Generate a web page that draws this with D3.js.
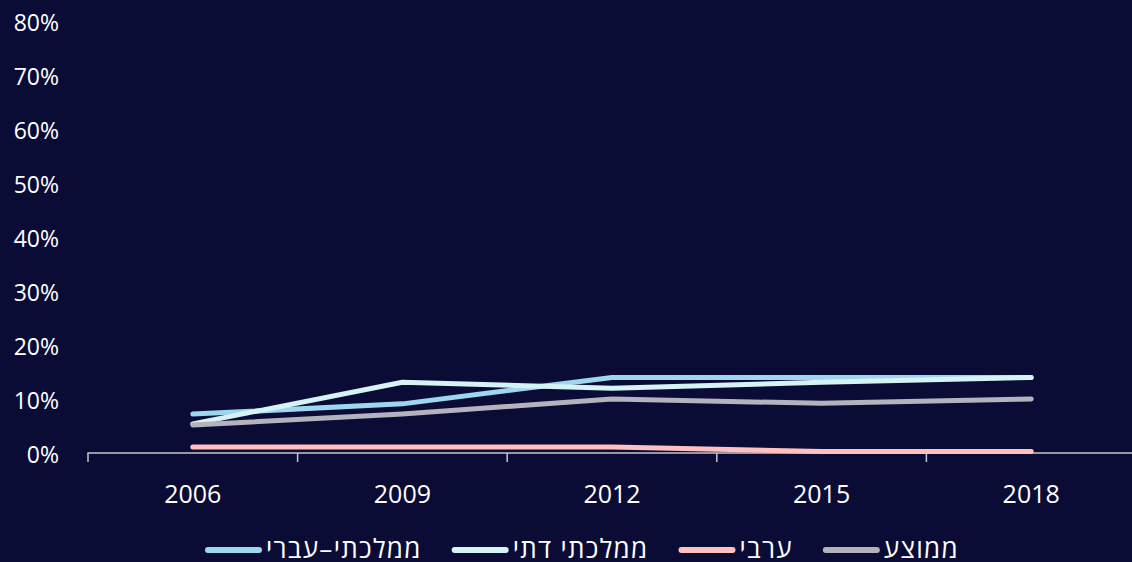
<!DOCTYPE html>
<html>
<head>
<meta charset="utf-8">
<script src="https://cdn.jsdelivr.net/npm/d3@7"></script>
<style>
  body { margin: 0; background: #0b0c36; }
  svg { display: block; }
</style>
</head>
<body>
<div id="chart"></div>
<script>
var years = ["2006", "2009", "2012", "2015", "2018"];
var seriesNames = ["ממלכתי–עברי", "ממלכתי דתי", "ערבי", "ממוצע"];
var mamlachti = [7.2, 9.1, 14, 14, 14];
var datiVals = [5.4, 13.1, 12, 13.1, 14];
var aravi = [1.1, 1.1, 1.1, 0.3, 0.3];
var memutza = [5.2, 7.2, 10, 9.2, 10];
var yTicks = [0, 10, 20, 30, 40, 50, 60, 70, 80];
var colors = ["#9fd6ef", "#d6f3f3", "#ffc0bf", "#b3b2bd"];

var width = 1132,
  height = 562;

var svg = d3.select("#chart")
  .append("svg")
  .attr("width", width)
  .attr("height", height)
  .style("background", "#0b0c36");

var x = d3.scaleBand()
  .domain(years)
  .range([88, 1136]);

var y = d3.scaleLinear()
  .domain([0, 80])
  .range([453, 21]);

var font = "'Open Sans', 'DejaVu Sans', sans-serif";

// year labels under the axis
var xAxis = svg.append("g")
  .attr("transform", "translate(0,453)")
  .call(d3.axisBottom(x).tickSize(0).tickPadding(32))
xAxis.select(".domain").remove();
xAxis.selectAll("text")
  .attr("fill", "#ffffff")
  .attr("font-family", font)
  .attr("font-size", "25px");

// axis line runs to the right edge
svg.append("line")
  .attr("x1", 87.5).attr("x2", width)
  .attr("y1", 453).attr("y2", 453)
  .attr("stroke", "#c6c6ce")
  .attr("stroke-width", 1.5);

svg.selectAll("line.xtick") //ticks sit on band edges, not centers
  .data(years)
  .enter()
  .append("line")
  .attr("class", "xtick")
  .attr("x1", function(d) { return x(d); })
  .attr("x2", function(d) { return x(d); })
  .attr("y1", 453)
  .attr("y2", 462)
  .attr("stroke", "#c6c6ce")
  .attr("stroke-width", 1.5);

// y labels, no axis line
svg.selectAll("text.ylab")
  .data(yTicks)
  .enter()
  .append("text")
  .attr("class", "ylab")
  .attr("x", 59)
  .attr("y", function(d) { return y(d) + 2; })
  .attr("dy", "0.36em")
  .attr("text-anchor", "end")
  .attr("fill", "#ffffff")
  .attr("font-family", font)
  .attr("font-size", "23px")
  .text(function(d) { return d + "%"; });

var allSeries = [mamlachti, datiVals, aravi, memutza];

var line = d3.line()
  .x(function(d, i) { return x(years[i]) + x.bandwidth() / 2; })
  .y(function(d) { return y(d); });

svg.selectAll("path.series")
  .data(allSeries)
  .enter()
  .append("path")
  .attr("class", "series")
  .attr("d", line)
  .attr("fill", "none")
  .attr("stroke", function(d, i) { return colors[i]; })
  .attr("stroke-width", 5)
  .attr("stroke-linecap", "round")
  .attr("stroke-linejoin", "round");

// legend, laid out left to right
var legend = svg.append("g").attr("class", "legend");
var lx = 208;
seriesNames.forEach(function(name, i) {
  legend.append("line")
    .attr("x1", lx).attr("x2", lx + 51)
    .attr("y1", 550).attr("y2", 550)
    .attr("stroke", colors[i])
    .attr("stroke-width", 6)
    .attr("stroke-linecap", "round");
  var t = legend.append("text")
    .attr("x", lx + 58)
    .attr("y", 558)
    .attr("fill", "#ffffff")
    .attr("font-family", font)
    .attr("font-size", "26px")
    .attr("letter-spacing", "1.3px")
    .text(name);
  lx = lx + 58 + t.node().getComputedTextLength() + 33;
});
</script>
</body>
</html>
